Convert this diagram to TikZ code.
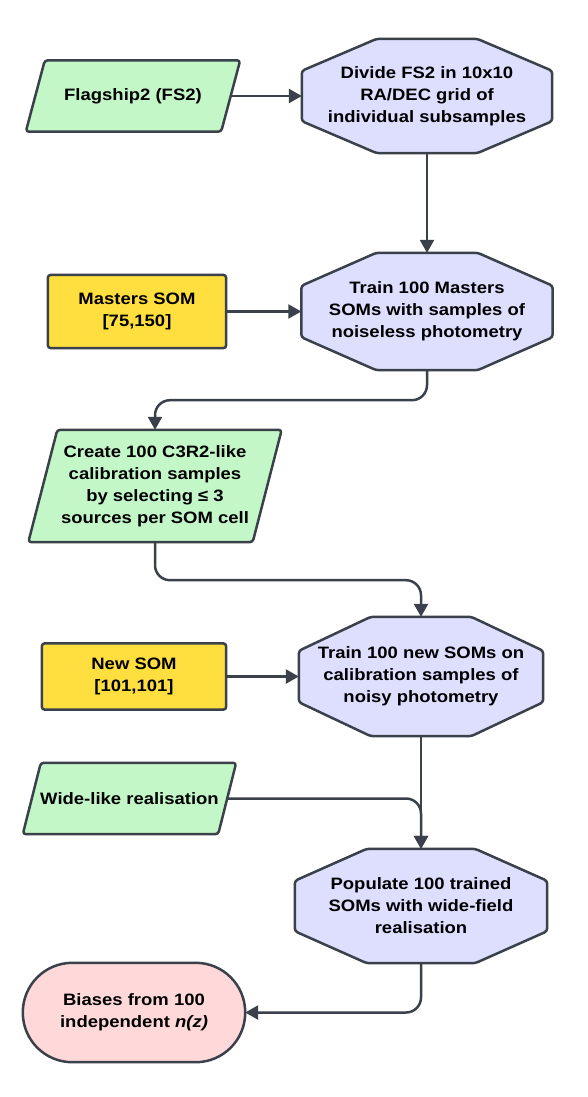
\documentclass[tikz,border=0pt]{standalone}
\usepackage{fontspec}
\setmainfont{Liberation Sans}[FakeStretch=1.12]
\usetikzlibrary{arrows.meta,calc}
\definecolor{edge}{HTML}{3A414A}
\definecolor{gfill}{HTML}{C3F7C8}
\definecolor{vfill}{HTML}{DEDEFF}
\definecolor{yfill}{HTML}{FFDF3F}
\definecolor{pfill}{HTML}{FFD9D9}
\pgfdeclarelayer{bg}\pgfsetlayers{bg,main}
\tikzset{
  shapeline/.style={draw=edge, line width=2.5pt, rounded corners=3pt, line join=round},
  lbl/.style={inner sep=0pt, align=center, text=black,
    font=\bfseries\fontsize{16.5}{22}\selectfont},
  conn/.style={draw=edge, line width=2.5pt, rounded corners=15pt,
    -{Triangle[length=13pt,width=14pt]}},
}
% octagon round a node: name, horizontal chamfer, vertical chamfer
\newcommand\octashape[3]{%
  \begin{pgfonlayer}{bg}
  \draw[shapeline, fill=vfill]
    ($(#1.north west)+(#2,0)$) -- ($(#1.north east)+(-#2,0)$) --
    ($(#1.north east)+(0,#3)$) -- ($(#1.south east)+(0,-#3)$) --
    ($(#1.south east)+(-#2,0)$) -- ($(#1.south west)+(#2,0)$) --
    ($(#1.south west)+(0,-#3)$) -- ($(#1.north west)+(0,#3)$) -- cycle;
  \end{pgfonlayer}}
% parallelogram round a node: name, half slant
\newcommand\paral[2]{%
  \begin{pgfonlayer}{bg}
  \draw[shapeline, fill=gfill]
    ($(#1.north west)+(#2,0)$) -- ($(#1.north east)+(#2,0)$) --
    ($(#1.south east)+(-#2,0)$) -- ($(#1.south west)+(-#2,0)$) -- cycle;
  \end{pgfonlayer}}
\newcommand\boxshape[2]{%
  \begin{pgfonlayer}{bg}
  \draw[shapeline, fill=#2] (#1.north west) rectangle (#1.south east);
  \end{pgfonlayer}}
\begin{document}
\begin{tikzpicture}[x=1pt, y=-1pt]
\useasboundingbox (0,0) rectangle (588,1097);

\node[lbl, minimum width=195pt, minimum height=71pt] (fs2) at (133,96) {Flagship2 (FS2)};
\paral{fs2}{9.5}

\node[lbl, minimum width=250pt, minimum height=114pt] (divide) at (427,96)
  {Divide FS2 in 10x10\\RA/DEC grid of\\individual subsamples};
\octashape{divide}{75}{32}

\node[lbl, minimum width=178pt, minimum height=73pt] (msom) at (137,311.5)
  {Masters SOM\\{[75,150]}};
\boxshape{msom}{yfill}

\node[lbl, minimum width=251pt, minimum height=117pt] (trainm) at (427,311.5)
  {Train 100 Masters\\SOMs with samples of\\noiseless photometry};
\octashape{trainm}{75}{33}

\node[lbl, minimum width=224pt, minimum height=112pt] (create) at (155,486)
  {Create 100 C3R2-like\\calibration samples\\by selecting ≤ 3\\sources per SOM cell};
\paral{create}{14.5}

\node[lbl, minimum width=184pt, minimum height=66pt] (nsom) at (134,676.5)
  {New SOM\\{[101,101]}};
\boxshape{nsom}{yfill}

\node[lbl, minimum width=244pt, minimum height=119pt] (trainn) at (421,676.5)
  {Train 100 new SOMs on\\calibration samples of\\noisy photometry};
\octashape{trainn}{72}{34}

\node[lbl, minimum width=195pt, minimum height=71pt] (wide) at (129.5,798.5)
  {Wide-like realisation};
\paral{wide}{9}

\node[lbl, minimum width=252pt, minimum height=114pt] (pop) at (421,906)
  {Populate 100 trained\\SOMs with wide-field\\realisation};
\octashape{pop}{72}{32}

\node[lbl, minimum width=222pt, minimum height=99pt] (bias) at (134,1012.5)
  {Biases from 100\\independent \textit{n(z)}};
\begin{pgfonlayer}{bg}
\draw[shapeline, fill=pfill, rounded corners=49.5pt] (bias.north west) rectangle (bias.south east);
\end{pgfonlayer}

\draw[conn] (fs2.east) -- (divide.west);
\draw[conn] (divide.south) -- (trainm.north);
\draw[conn] (msom.east) -- (trainm.west);
\draw[conn] (trainm.south) -- ++(0,30) -| (create.north);
\draw[conn] (create.south) -- ++(0,38) -| (trainn.north);
\draw[conn] (nsom.east) -- (trainn.west);
\draw[conn] (trainn.south) -- (pop.north);
\draw[conn] (wide.east) -| (pop.north);
\draw[conn] (pop.south) |- (bias.east);
\end{tikzpicture}
\end{document}
